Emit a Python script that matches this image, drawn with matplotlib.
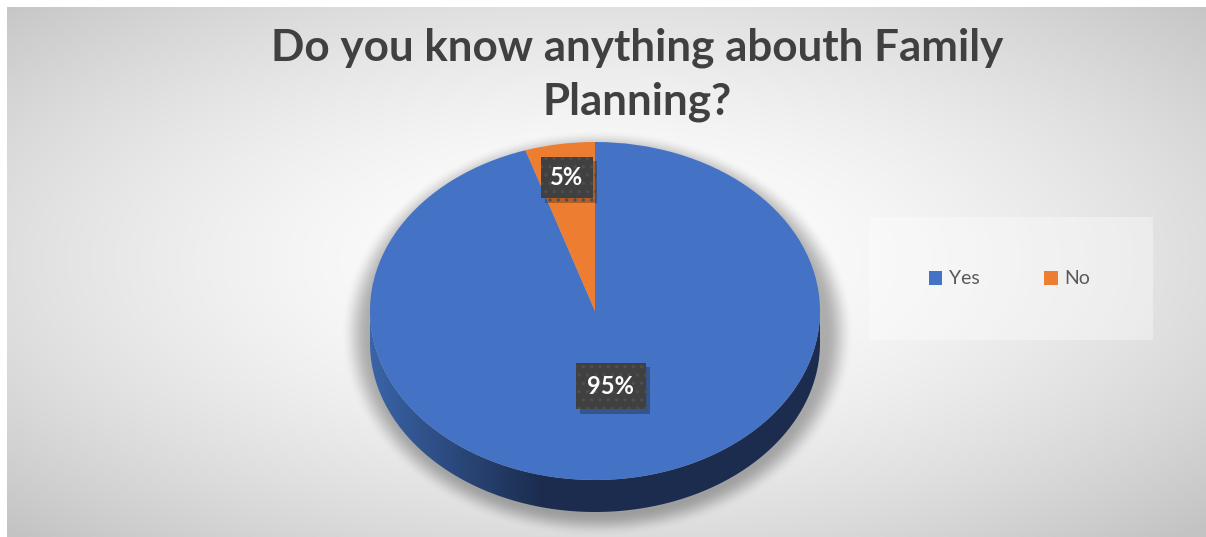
import numpy as np
import matplotlib
matplotlib.use("Agg")
import matplotlib.pyplot as plt
from matplotlib.patches import Polygon, Rectangle
import matplotlib.patheffects as pe

# ---- data ----
categories = ["Yes", "No"]
values = [95, 5]
pct_labels = ["95%", "5%"]
colors = ["#4472C4", "#ED7D31"]
title = "Do you know anything abouth Family\nPlanning?"

W, H = 1206, 537
FONT = "Lato"
fig = plt.figure(figsize=(W / 100, H / 100), dpi=100)

# ---- background (radial gradient + soft pie shadow) ----
yy, xx = np.mgrid[0:H, 0:W].astype(float)
cx, cy = 600.0, 260.0
d = np.sqrt(((xx - cx) / (W / 2)) ** 2 + ((yy - cy) / (H / 2)) ** 2) / np.sqrt(2)
d = np.clip(d, 0, 1)
g = 255 - 60 * d ** 1.7
# shadow under the pie
pcx, pcy, A, B = 597.0, 333.0, 240.0, 190.0
r = np.sqrt(((xx - pcx) / A) ** 2 + ((yy - pcy) / B) ** 2)
t = np.clip((1.07 - r) / 0.12, 0, 1)
sh = 0.30 * t * t * (3 - 2 * t)
g = g * (1 - sh)
img = np.dstack([g, g, g]) / 255.0
img[:7, :, :] = 1.0
img[:, :7, :] = 1.0
bg = fig.add_axes([0, 0, 1, 1], zorder=0)
bg.imshow(img, extent=[0, W, H, 0], aspect="auto", interpolation="bilinear")
bg.set_xlim(0, W)
bg.set_ylim(H, 0)
bg.axis("off")
# legend box
bg.add_patch(Rectangle((869, 217), 284, 123, facecolor="white", alpha=0.35,
                       edgecolor="none"))

# ---- pie axes: data units, x unit = 225 px, y unit = 169 px ----
PX, PY, RX, RY = 595.0, 311.0, 225.0, 169.0
ax = fig.add_axes([0, 0, 1, 1], zorder=2)
ax.patch.set_alpha(0)
wedges, _ = ax.pie(values, colors=colors, startangle=90, counterclock=False,
                   radius=1, center=(0, 0), wedgeprops=dict(linewidth=0))
ax.set_aspect("auto")
ax.axis("off")
for w in wedges:
    w.set_zorder(3)

# side (extrusion) of the front half
depth = 32.0 / RY
tt = np.linspace(np.pi, 2 * np.pi, 300)
top_edge = np.column_stack([np.cos(tt), np.sin(tt)])
bot_edge = np.column_stack([np.cos(tt[::-1]), np.sin(tt[::-1]) - depth])
side = Polygon(np.vstack([top_edge, bot_edge]), closed=True,
               facecolor="none", edgecolor="none")
ax.add_patch(side)
gx = np.linspace(-1, 1, 400)
c_left = np.array([0x3a, 0x64, 0xa8]) / 255
c_mid = np.array([0x1c, 0x2d, 0x50]) / 255
c_right = np.array([0x1b, 0x2c, 0x4e]) / 255
f = np.clip((gx + 1) / 0.75, 0, 1)
cols = np.where(gx[:, None] < -0.25,
                c_left * (1 - f[:, None]) + c_mid * f[:, None],
                c_mid + (c_right - c_mid) * np.clip((gx[:, None] + 0.25) / 1.25, 0, 1))
grad = np.repeat(cols[None, :, :], 10, axis=0)
im = ax.imshow(grad, extent=[-1, 1, -1 - depth - 0.02, 0.02], aspect="auto",
               zorder=2, interpolation="bilinear")
im.set_clip_path(side)
ax.set_xlim((0 - PX) / RX, (W - PX) / RX)
ax.set_ylim((PY - H) / RY, PY / RY)

# ---- data labels ----
plt.rcParams["hatch.linewidth"] = 1.2
dists = [0.45, 0.80]
pads = [0.50, 0.40]
cum = 0.0
total = float(sum(values))
for v, lab, dist, pad in zip(values, pct_labels, dists, pads):
    mid = np.deg2rad(90 - 360 * (cum + v / 2) / total)
    cum += v
    x, y = dist * np.cos(mid), dist * np.sin(mid)
    tx = ax.text(x, y, lab, ha="center", va="center", fontsize=17,
                 fontweight="bold", family=FONT, color="white", zorder=5,
                 bbox=dict(boxstyle=f"square,pad={pad}", facecolor="#404040",
                           edgecolor="#4e4e4e", hatch="..", linewidth=0))
    tx.get_bbox_patch().set_path_effects(
        [pe.SimplePatchShadow(offset=(3, -3), shadow_rgbFace="black", alpha=0.25),
         pe.Normal()])

# ---- legend ----
leg = ax.legend(wedges, categories, loc="center",
                bbox_to_anchor=(1009.5 / W, 1 - 279 / H),
                bbox_transform=fig.transFigure, ncol=2, frameon=False,
                prop=dict(family=FONT, size=14), handlelength=0.7,
                handleheight=0.7, handletextpad=0.35, columnspacing=3.3)
for txt in leg.get_texts():
    txt.set_color("#595959")

# ---- title ----
ttl = fig.text(637 / W, 1 - 28 / H, title, ha="center", va="top",
               fontsize=30, fontweight="bold", family=FONT, color="#404040",
               linespacing=1.32)
fig.canvas.draw()
line1 = fig.text(0, 0, title.split("\n")[0], fontsize=30, fontweight="bold",
                 family=FONT)
wpx = line1.get_window_extent(fig.canvas.get_renderer()).width
line1.remove()
scale = 733.0 / wpx
ttl.set_fontsize(30 * scale)
ttl.set_linespacing(1.40)

fig.savefig("out.png", dpi=100)
